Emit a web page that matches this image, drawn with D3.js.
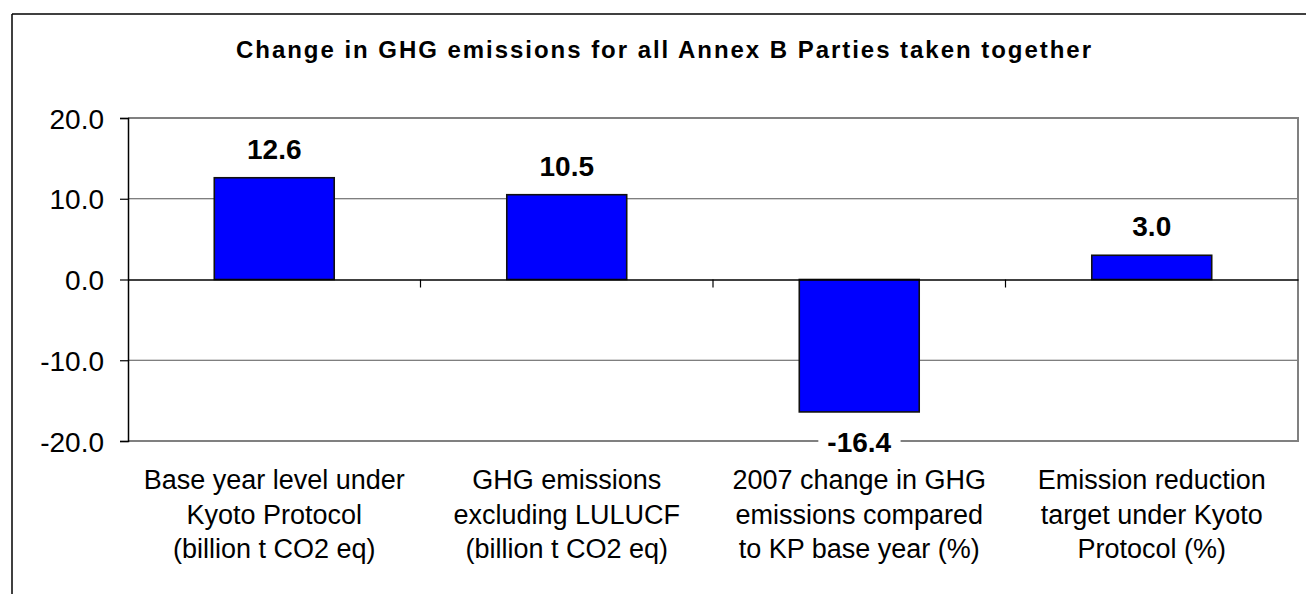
<!DOCTYPE html>
<html><head><meta charset="utf-8">
<script src="https://cdn.jsdelivr.net/npm/d3@7"></script>
<style>
html,body{margin:0;padding:0;background:#fff;}
text{font-family:"Liberation Sans",Arial,sans-serif;}
</style></head>
<body><svg id="c" width="1306" height="594"></svg>
<script>
const titleText = "Change in GHG emissions for all Annex B Parties taken together";
const categories = [
  ["Base year level under","Kyoto Protocol","(billion t CO2 eq)"],
  ["GHG emissions","excluding LULUCF","(billion t CO2 eq)"],
  ["2007 change in GHG","emissions compared","to KP base year (%)"],
  ["Emission reduction","target under Kyoto","Protocol (%)"]
];
const values = [12.6, 10.5, -16.4, 3.0];
const yTicks = [20, 10, 0, -10, -20];

const loc = d3.formatLocale({decimal:".",thousands:",",grouping:[3],currency:["",""],minus:"-"});
const fmt = loc.format(".1f");

const svg = d3.select("#c");
const L = 128, R = 1298, T = 118, B = 441;

// outer frame (partial)
svg.append("line").attr("x1",12).attr("x2",1306).attr("y1",14).attr("y2",14).attr("stroke","#000").attr("stroke-width",1.5);
svg.append("line").attr("x1",12).attr("x2",12).attr("y1",14).attr("y2",594).attr("stroke","#000").attr("stroke-width",1.5);

const x = d3.scaleBand().domain(d3.range(categories.length)).range([L,R]).paddingInner(0.59).paddingOuter(0.295);
const xc = d3.scaleBand().domain(d3.range(categories.length)).range([L,R]).padding(0);
const y = d3.scaleLinear().domain([-20,20]).range([B,T]);

// gridlines
svg.append("g").selectAll("line").data(yTicks.filter(v=>v!==0 && v!==20 && v!==-20)).join("line")
  .attr("x1",L).attr("x2",R).attr("y1",d=>y(d)).attr("y2",d=>y(d))
  .attr("stroke","#555").attr("stroke-width",1);
// plot border (top, right, bottom)
svg.append("path").attr("d",`M${L},${y(20)}H${R}V${y(-20)}H${L}`).attr("fill","none").attr("stroke","#808080").attr("stroke-width",2);

// bars
svg.append("g").selectAll("rect").data(values).join("rect")
  .attr("x",(d,i)=>x(i)).attr("width",x.bandwidth())
  .attr("y",d=>y(Math.max(0,d))).attr("height",d=>Math.abs(y(d)-y(0)))
  .attr("fill","#0000ff").attr("stroke","#111").attr("stroke-width",1.6);

// y axis
const yAxis = d3.axisLeft(y).tickValues(yTicks).tickSize(8).tickPadding(16).tickFormat(fmt);
const ga = svg.append("g").attr("transform",`translate(${L},0)`).call(yAxis);
ga.select(".domain").attr("stroke","#000").attr("stroke-width",1.5);
ga.selectAll(".tick line").attr("stroke","#000").attr("stroke-width",1.2);
ga.selectAll(".tick text").attr("font-size",28).attr("fill","#000").attr("font-family","'Liberation Sans',Arial,sans-serif").attr("dy","0.36em");

// zero line with category ticks
const gx = svg.append("g").attr("transform",`translate(0,${y(0)})`)
  .call(d3.axisBottom(xc).tickValues([]).tickSizeOuter(0));
gx.select(".domain").attr("stroke","#000").attr("stroke-width",1.5);
svg.append("g").selectAll("line").data(d3.range(1,categories.length)).join("line")
  .attr("x1",i=>xc(i)).attr("x2",i=>xc(i)).attr("y1",y(0)).attr("y2",y(0)+8)
  .attr("stroke","#000").attr("stroke-width",1.2);

// category labels
const cl = svg.append("g").selectAll("text").data(categories).join("text")
  .attr("text-anchor","middle").attr("font-size",27).attr("fill","#000");
cl.each(function(lines,i){
  const t = d3.select(this);
  lines.forEach((ln,k)=>{
    t.append("tspan").attr("x",xc(i)+xc.bandwidth()/2).attr("y",489+k*34.5).text(ln);
  });
});

// value labels
const vl = svg.append("g").selectAll("g").data(values).join("g");
vl.each(function(d,i){
  const g = d3.select(this);
  const cx = x(i)+x.bandwidth()/2;
  const by = d>=0 ? y(d)-19 : y(d)+40;
  const t = g.append("text").attr("x",cx).attr("y",by).attr("text-anchor","middle")
    .attr("font-size",28).attr("font-weight","bold").attr("fill","#000").text(fmt(d));
  if(d<0){
    const bb = t.node().getBBox();
    g.insert("rect","text").attr("x",bb.x-9).attr("y",bb.y).attr("width",bb.width+18).attr("height",bb.height).attr("fill","#fff");
  }
});

// title
svg.append("text").attr("x",236).attr("y",57.5).attr("font-size",24).attr("font-weight","bold")
  .attr("textLength",855).attr("lengthAdjust","spacing").attr("fill","#000").text(titleText);
</script></body></html>
